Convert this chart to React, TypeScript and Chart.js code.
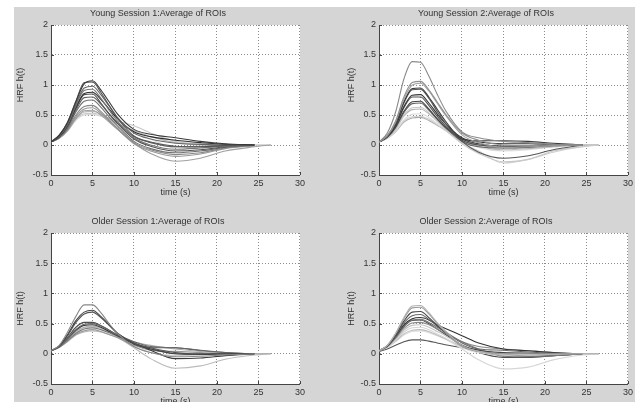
import React, { useEffect, useRef } from "react";
import { Chart, registerables } from "chart.js";

Chart.register(...registerables);

const FONT = '"Liberation Sans", Arial, Helvetica, sans-serif';

// shared sampling times (s)
const time = [0, 1, 2, 3, 4, 5, 6, 7, 8, 10, 12, 15, 18, 21, 24.5, 26.5];
const xTicks = [0, 5, 10, 15, 20, 25, 30];
const yTicks = [-0.5, 0, 0.5, 1, 1.5, 2];
const yTickLabels = ["-0.5", "0", "0.5", "1", "1.5", "2"];

const panelTitles = [
  "Young Session 1:Average of ROIs",
  "Young Session 2:Average of ROIs",
  "Older Session 1:Average of ROIs",
  "Older Session 2:Average of ROIs",
];

type Row = (number | null)[];

// ---- Young Session 1 ----
const youngS1Colors = ["#3a3a3a", "#555555", "#666666", "#777777", "#2e2e2e", "#505050", "#606060", "#707070", "#888888", "#999999", "#a0a0a0", "#b8b8b8", "#c8c8c8", "#d8d8d8"];
const youngS1: Row[] = [
  [0.05, 0.16, 0.38, 0.72, 1.02, 1.07, 0.92, 0.72, 0.52, 0.26, 0.18, 0.12, 0.06, 0.02, 0.0, null],
  [0.05, 0.17, 0.38, 0.73, 1.04, 1.05, 0.88, 0.66, 0.45, 0.15, 0.05, -0.02, -0.03, -0.01, 0.0, null],
  [0.05, 0.15, 0.35, 0.68, 0.95, 0.98, 0.84, 0.65, 0.46, 0.2, 0.1, 0.03, 0.01, 0.0, 0.0, null],
  [0.05, 0.15, 0.34, 0.66, 0.91, 0.93, 0.78, 0.58, 0.4, 0.12, 0.0, -0.07, -0.05, -0.02, 0.0, null],
  [0.05, 0.14, 0.33, 0.63, 0.86, 0.88, 0.76, 0.6, 0.44, 0.22, 0.14, 0.08, 0.04, 0.01, 0.0, null],
  [0.05, 0.14, 0.32, 0.61, 0.84, 0.85, 0.7, 0.52, 0.36, 0.1, -0.02, -0.1, -0.08, -0.03, 0.0, null],
  [0.05, 0.13, 0.3, 0.58, 0.79, 0.8, 0.68, 0.52, 0.37, 0.14, 0.04, -0.03, -0.03, -0.01, 0.0, null],
  [0.05, 0.13, 0.28, 0.55, 0.73, 0.75, 0.63, 0.47, 0.32, 0.06, -0.06, -0.13, -0.1, -0.04, 0.0, null],
  [0.05, 0.12, 0.26, 0.5, 0.64, 0.66, 0.56, 0.42, 0.28, 0.04, -0.08, -0.16, -0.13, -0.05, -0.01, null],
  [0.05, 0.12, 0.25, 0.47, 0.6, 0.62, 0.53, 0.4, 0.27, 0.02, -0.1, -0.19, -0.15, -0.06, -0.01, null],
  [0.05, 0.11, 0.24, 0.44, 0.57, 0.58, 0.5, 0.38, 0.26, 0.03, -0.14, -0.27, -0.22, -0.1, -0.03, 0.0],
  [0.05, 0.12, 0.25, 0.44, 0.55, 0.56, 0.52, 0.44, 0.36, 0.24, 0.14, 0.04, 0.0, -0.01, 0.0, null],
  [0.05, 0.12, 0.25, 0.43, 0.52, 0.53, 0.5, 0.45, 0.4, 0.32, 0.2, 0.06, 0.02, 0.0, 0.0, 0.0],
  [0.05, 0.11, 0.23, 0.41, 0.5, 0.51, 0.48, 0.42, 0.36, 0.22, 0.1, -0.04, -0.04, -0.02, 0.0, 0.0],
];

// ---- Young Session 2 ----
const youngS2Colors = ["#8a8a8a", "#909090", "#a0a0a0", "#3c3c3c", "#555555", "#333333", "#505050", "#444444", "#666666", "#c8c8c8", "#b4b4b4", "#dcdcdc", "#cfcfcf", "#aaaaaa"];
const youngS2: Row[] = [
  [0.05, 0.2, 0.55, 1.1, 1.39, 1.38, 1.15, 0.85, 0.58, 0.22, 0.12, 0.06, 0.04, 0.01, 0.0, null],
  [0.05, 0.16, 0.4, 0.8, 1.04, 1.06, 0.92, 0.72, 0.52, 0.2, 0.08, 0.0, -0.01, 0.0, 0.0, null],
  [0.05, 0.15, 0.38, 0.76, 1.0, 1.03, 0.9, 0.7, 0.5, 0.17, 0.04, -0.04, -0.03, -0.01, 0.0, null],
  [0.05, 0.15, 0.36, 0.72, 0.94, 0.95, 0.8, 0.6, 0.4, 0.1, 0.07, 0.07, 0.06, 0.03, 0.0, null],
  [0.05, 0.15, 0.35, 0.7, 0.92, 0.93, 0.78, 0.56, 0.36, 0.06, -0.12, -0.22, -0.18, -0.08, 0.0, null],
  [0.05, 0.14, 0.33, 0.64, 0.83, 0.84, 0.7, 0.52, 0.36, 0.12, 0.05, 0.02, 0.02, 0.01, 0.0, null],
  [0.05, 0.14, 0.32, 0.62, 0.8, 0.8, 0.66, 0.48, 0.32, 0.08, 0.0, -0.02, -0.01, 0.0, 0.0, null],
  [0.05, 0.13, 0.3, 0.56, 0.72, 0.73, 0.6, 0.44, 0.3, 0.1, 0.02, -0.02, -0.02, 0.0, 0.0, null],
  [0.05, 0.13, 0.29, 0.54, 0.69, 0.7, 0.58, 0.43, 0.29, 0.06, -0.03, -0.05, -0.04, -0.01, 0.0, null],
  [0.05, 0.12, 0.27, 0.5, 0.62, 0.63, 0.54, 0.4, 0.26, 0.02, -0.14, -0.28, -0.24, -0.1, -0.03, 0.0],
  [0.05, 0.12, 0.26, 0.48, 0.59, 0.6, 0.52, 0.4, 0.28, 0.08, -0.02, -0.08, -0.06, -0.03, 0.0, 0.0],
  [0.05, 0.11, 0.24, 0.42, 0.51, 0.52, 0.46, 0.36, 0.26, 0.08, -0.04, -0.1, -0.08, -0.03, 0.0, 0.0],
  [0.05, 0.11, 0.23, 0.4, 0.47, 0.48, 0.43, 0.34, 0.24, 0.04, -0.1, -0.3, -0.24, -0.12, -0.03, 0.0],
  [0.05, 0.11, 0.22, 0.38, 0.45, 0.46, 0.41, 0.33, 0.25, 0.1, 0.0, -0.05, -0.04, -0.02, 0.0, 0.0],
];

// ---- Older Session 1 ----
const olderS1Colors = ["#888888", "#444444", "#555555", "#666666", "#3a3a3a", "#aaaaaa", "#777777", "#999999", "#bbbbbb", "#cccccc", "#505050"];
const olderS1: Row[] = [
  [0.05, 0.14, 0.36, 0.62, 0.81, 0.81, 0.68, 0.5, 0.34, 0.12, 0.02, -0.05, -0.04, -0.02, 0.0, null],
  [0.05, 0.13, 0.32, 0.55, 0.69, 0.72, 0.62, 0.48, 0.34, 0.16, 0.08, 0.0, -0.01, 0.0, 0.0, null],
  [0.05, 0.13, 0.3, 0.52, 0.66, 0.69, 0.6, 0.47, 0.34, 0.18, 0.1, 0.02, 0.0, 0.0, 0.0, null],
  [0.05, 0.12, 0.26, 0.4, 0.49, 0.5, 0.46, 0.39, 0.32, 0.2, 0.12, 0.1, 0.06, 0.02, 0.0, null],
  [0.05, 0.12, 0.25, 0.39, 0.47, 0.48, 0.44, 0.37, 0.3, 0.18, 0.06, -0.08, -0.07, -0.03, 0.0, null],
  [0.05, 0.12, 0.24, 0.37, 0.44, 0.46, 0.43, 0.37, 0.3, 0.2, 0.14, 0.08, 0.04, 0.01, 0.0, 0.0],
  [0.05, 0.11, 0.22, 0.34, 0.41, 0.43, 0.4, 0.35, 0.29, 0.17, 0.08, 0.0, -0.01, 0.0, 0.0, null],
  [0.05, 0.11, 0.21, 0.32, 0.38, 0.4, 0.37, 0.32, 0.27, 0.14, 0.06, 0.04, 0.02, 0.0, 0.0, null],
  [0.05, 0.11, 0.2, 0.31, 0.36, 0.38, 0.36, 0.32, 0.27, 0.1, -0.08, -0.24, -0.2, -0.09, -0.02, 0.0],
  [0.05, 0.11, 0.22, 0.35, 0.43, 0.45, 0.42, 0.36, 0.29, 0.12, 0.02, -0.03, -0.02, -0.01, 0.0, 0.0],
  [0.05, 0.12, 0.27, 0.44, 0.52, 0.52, 0.47, 0.39, 0.31, 0.17, 0.1, 0.1, 0.05, 0.02, 0.0, null],
];

// ---- Older Session 2 ----
const olderS2Colors = ["#b0b0b0", "#999999", "#444444", "#666666", "#333333", "#777777", "#888888", "#c4c4c4", "#d6d6d6", "#bbbbbb", "#dddddd", "#555555", "#4a4a4a"];
const olderS2: Row[] = [
  [0.05, 0.14, 0.34, 0.6, 0.79, 0.8, 0.68, 0.52, 0.38, 0.14, 0.04, -0.02, -0.02, -0.01, 0.0, 0.0],
  [0.05, 0.14, 0.33, 0.58, 0.76, 0.77, 0.66, 0.5, 0.36, 0.12, 0.04, 0.0, 0.0, 0.0, 0.0, null],
  [0.05, 0.13, 0.31, 0.54, 0.69, 0.7, 0.6, 0.47, 0.35, 0.14, 0.06, 0.02, 0.01, 0.0, 0.0, null],
  [0.05, 0.13, 0.3, 0.51, 0.63, 0.65, 0.57, 0.46, 0.36, 0.18, 0.08, 0.06, 0.03, 0.01, 0.0, null],
  [0.05, 0.13, 0.29, 0.48, 0.58, 0.6, 0.56, 0.48, 0.42, 0.3, 0.18, 0.08, 0.05, 0.02, 0.0, null],
  [0.05, 0.12, 0.27, 0.46, 0.56, 0.57, 0.52, 0.44, 0.36, 0.2, 0.08, -0.04, -0.05, -0.03, 0.0, null],
  [0.05, 0.12, 0.26, 0.42, 0.51, 0.52, 0.48, 0.41, 0.34, 0.2, 0.12, 0.08, 0.05, 0.02, 0.0, null],
  [0.05, 0.12, 0.24, 0.39, 0.47, 0.48, 0.44, 0.37, 0.3, 0.14, 0.04, -0.02, -0.02, -0.01, 0.0, 0.0],
  [0.05, 0.11, 0.22, 0.36, 0.43, 0.44, 0.4, 0.33, 0.26, 0.08, -0.1, -0.25, -0.22, -0.1, -0.02, 0.0],
  [0.05, 0.11, 0.21, 0.33, 0.39, 0.4, 0.37, 0.31, 0.25, 0.12, 0.04, 0.02, 0.01, 0.0, 0.0, 0.0],
  [0.05, 0.11, 0.2, 0.31, 0.37, 0.38, 0.35, 0.3, 0.24, 0.1, 0.02, 0.0, 0.0, 0.0, 0.0, 0.0],
  [0.04, 0.08, 0.14, 0.2, 0.23, 0.23, 0.21, 0.18, 0.15, 0.1, 0.06, 0.0, -0.04, -0.03, 0.0, null],
  [0.05, 0.12, 0.27, 0.45, 0.55, 0.56, 0.5, 0.41, 0.32, 0.14, 0.02, -0.06, -0.06, -0.03, 0.0, null],
];

type PanelProps = {
  title: string;
  rows: Row[];
  colors: string[];
  left: number;
  top: number;
  ylabX: number;
  ylabDy: number;
  plotH: number;
};

const CANVAS_W = 294;
const YAXIS_W = 37;
const XAXIS_H = 26;
const TITLE_H = 18;

function Panel({ title, rows, colors, left, top, ylabX, ylabDy, plotH }: PanelProps) {
  const ref = useRef<HTMLCanvasElement | null>(null);
  const height = TITLE_H + plotH + XAXIS_H;

  useEffect(() => {
    if (!ref.current) return;
    const datasets = rows.map((r, i) => ({
      data: time.map((t, j) => ({ x: t, y: r[j] })),
      borderColor: colors[i],
      borderWidth: 1.1,
      pointRadius: 0,
      fill: false,
      cubicInterpolationMode: "monotone" as const,
      spanGaps: false,
    }));

    const bgPlugin = {
      id: "plotBg",
      beforeDraw(chart: any) {
        const { ctx, chartArea: a } = chart;
        ctx.save();
        ctx.fillStyle = "#ffffff";
        ctx.fillRect(a.left, a.top, a.right - a.left, a.bottom - a.top);
        ctx.restore();
      },
    };
    const extrasPlugin = {
      id: "extras",
      afterDraw(chart: any) {
        const { ctx, chartArea: a, scales } = chart;
        ctx.save();
        // inward tick marks
        ctx.strokeStyle = "#444";
        ctx.lineWidth = 1;
        ctx.beginPath();
        xTicks.forEach((v) => {
          const px = Math.round(scales.x.getPixelForValue(v)) + 0.5;
          ctx.moveTo(px, a.bottom);
          ctx.lineTo(px, a.bottom - 3);
        });
        yTicks.forEach((v) => {
          const py = Math.round(scales.y.getPixelForValue(v)) + 0.5;
          ctx.moveTo(a.left, py);
          ctx.lineTo(a.left + 3, py);
        });
        ctx.stroke();
        // y label
        ctx.translate(ylabX, (a.top + a.bottom) / 2 + ylabDy);
        ctx.rotate(-Math.PI / 2);
        ctx.textAlign = "center";
        ctx.textBaseline = "middle";
        ctx.fillStyle = "#333";
        ctx.font = `9px ${FONT}`;
        ctx.fillText("HRF h(t)", 0, 0);
        ctx.restore();
      },
    };

    const gridColor = (min: number) => (c: any) =>
      c.tick && c.tick.value === min ? "rgba(0,0,0,0)" : "#8c8c8c";

    const tickFont = { family: FONT, size: 9, lineHeight: 1.2 };

    const chart = new Chart(ref.current, {
      type: "line",
      data: { datasets },
      plugins: [bgPlugin, extrasPlugin],
      options: {
        animation: false,
        responsive: false,
        maintainAspectRatio: false,
        layout: { padding: { left: 0, right: 6, top: 0, bottom: 0 } },
        plugins: {
          legend: { display: false },
          tooltip: { enabled: false },
          title: {
            display: true,
            text: title,
            color: "#333",
            font: { family: FONT, size: 9, weight: "normal", lineHeight: 12 / 9 },
            padding: { top: 1, bottom: 5 },
          },
        },
        scales: {
          x: {
            type: "linear",
            min: 0,
            max: 30,
            afterBuildTicks: (s: any) => {
              s.ticks = xTicks.map((v) => ({ value: v }));
            },
            afterFit: (s: any) => {
              s.height = XAXIS_H;
            },
            grid: { color: gridColor(0), drawTicks: false, lineWidth: 1 },
            border: { display: true, color: "#444", width: 1, dash: [1, 2] },
            ticks: {
              color: "#333",
              font: tickFont,
              padding: 3,
              maxRotation: 0,
              autoSkip: false,
              callback: (v: any) => String(v),
            },
            title: {
              display: true,
              text: "time (s)",
              color: "#333",
              font: tickFont,
              padding: { top: 0, bottom: 2.6 },
            },
          },
          y: {
            type: "linear",
            min: -0.5,
            max: 2,
            afterBuildTicks: (s: any) => {
              s.ticks = yTicks.map((v) => ({ value: v }));
            },
            afterFit: (s: any) => {
              s.width = YAXIS_W;
            },
            grid: { color: gridColor(-0.5), drawTicks: false, lineWidth: 1 },
            border: { display: true, color: "#444", width: 1, dash: [1, 2] },
            ticks: {
              color: "#333",
              font: tickFont,
              padding: 3,
              autoSkip: false,
              callback: (v: any) => {
                const k = yTicks.indexOf(Number(v));
                return k >= 0 ? yTickLabels[k] : String(v);
              },
            },
          },
        },
      } as any,
    });
    return () => chart.destroy();
  }, []);

  return (
    <canvas
      ref={ref}
      width={CANVAS_W}
      height={height}
      style={{ position: "absolute", left, top, width: CANVAS_W, height }}
    />
  );
}

export default function App() {
  return (
    <div
      style={{
        position: "fixed",
        left: 0,
        top: 0,
        width: 641,
        height: 402,
        overflow: "hidden",
        background: "#ffffff",
      }}
    >
      <div
        style={{
          position: "absolute",
          left: 14,
          top: 7,
          width: 621,
          height: 395,
          background: "#d5d5d5",
        }}
      />
      <Panel title={panelTitles[0]} rows={youngS1} colors={youngS1Colors} left={14} top={7} ylabX={7} ylabDy={-15} plotH={150} />
      <Panel title={panelTitles[1]} rows={youngS2} colors={youngS2Colors} left={342} top={7} ylabX={10} ylabDy={-15} plotH={150} />
      <Panel title={panelTitles[2]} rows={olderS1} colors={olderS1Colors} left={14} top={215} ylabX={7} ylabDy={0} plotH={151} />
      <Panel title={panelTitles[3]} rows={olderS2} colors={olderS2Colors} left={342} top={215} ylabX={10} ylabDy={0} plotH={151} />
    </div>
  );
}
